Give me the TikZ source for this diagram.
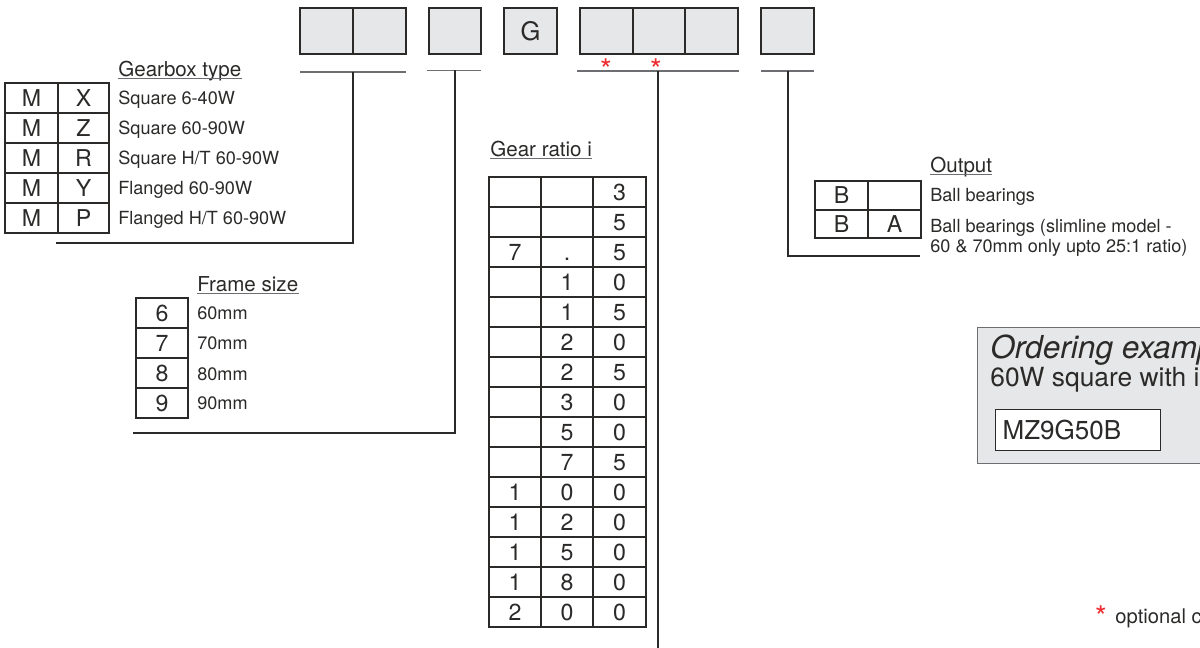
\documentclass[tikz,border=0pt]{standalone}
\usepackage{fontspec}
\setmainfont{TeX Gyre Heros}
\usepackage{tikz}
\usetikzlibrary{positioning}
\usepackage{xcolor}
\definecolor{boxgray}{HTML}{E6E7E8}
\definecolor{inkgray}{HTML}{2B2A29}
\definecolor{rulegray}{HTML}{6D6E71}
\definecolor{starred}{HTML}{EE2B2F}

\begin{document}
\begin{tikzpicture}[
    x=0.02cm, y=-0.02cm,
    codebox/.style={draw=inkgray, line width=0.8pt, fill=boxgray, minimum width=1.06cm, minimum height=0.92cm, inner sep=0pt, text height=10.4pt, text depth=0pt, font=\fontsize{14.5}{16}\selectfont},
    cell/.style={draw=inkgray, line width=0.6pt, minimum width=1.04cm, minimum height=0.6cm, inner sep=0pt, text height=9.5pt, text depth=0pt, font=\fontsize{13.2}{15}\selectfont},
    item/.style={anchor=base west, inner sep=0pt, font=\fontsize{10.3}{12}\selectfont},
    heading/.style={anchor=base west, inner sep=0pt, font=\fontsize{11.7}{13}\selectfont},
    uline/.style={draw=rulegray, line width=0.6pt},
    lead/.style={draw=inkgray, line width=1.5pt},
    star/.style={anchor=base, inner sep=0pt, text=starred, font=\fontsize{17}{18}\selectfont},
    text=inkgray
]
  \useasboundingbox (0,0) rectangle (1200,648);
  \clip (0,0) rectangle (1200,648);

  % --- TOP CODE BOXES ---
  \node[codebox] (type1) at (326.5,31) {};
  \node[codebox] (type2) at (379.5,31) {};
  \node[codebox, minimum width=1.04cm] (frame) at (455,31) {};
  \node[codebox] (gee) at (530.5,31) {G};
  \node[codebox] (ratio1) at (606.5,31) {};
  \node[codebox, minimum width=1.04cm] (ratio2) at (659,31) {};
  \node[codebox] (ratio3) at (711.5,31) {};
  \node[codebox] (output) at (787.5,31) {};

  % underlines below the boxes
  \coordinate (typeL) at (300,72);   \coordinate (typeR) at (406,72);
  \coordinate (frameL) at (427,70.5); \coordinate (frameR) at (481,70.5);
  \coordinate (ratioL) at (577,71);  \coordinate (ratioR) at (739,71);
  \coordinate (outL) at (761,71);    \coordinate (outR) at (814,71);
  \draw[uline] (typeL) -- (typeR);
  \draw[uline] (frameL) -- (frameR);
  \draw[uline] (ratioL) -- (ratioR);
  \draw[uline] (outL) -- (outR);
  \node[star] (opt1) at (606,81) {*};
  \node[star] (opt2) at (656,81) {*};

  % --- GEARBOX TYPE ---
  \node[heading] (typehead) at (118,77) {Gearbox type};
  \node[cell, minimum width=1.06cm] (tm1) at (31.5,98) {M};  \node[cell, minimum width=1.02cm] (tc1) at (83.5,98) {X};
  \node[cell, minimum width=1.06cm] (tm2) at (31.5,128) {M}; \node[cell, minimum width=1.02cm] (tc2) at (83.5,128) {Z};
  \node[cell, minimum width=1.06cm] (tm3) at (31.5,158) {M}; \node[cell, minimum width=1.02cm] (tc3) at (83.5,158) {R};
  \node[cell, minimum width=1.06cm] (tm4) at (31.5,188) {M}; \node[cell, minimum width=1.02cm] (tc4) at (83.5,188) {Y};
  \node[cell, minimum width=1.06cm] (tm5) at (31.5,218) {M}; \node[cell, minimum width=1.02cm] (tc5) at (83.5,218) {P};
  \node[item] (td1) at (118,105) {Square 6-40W};
  \node[item] (td2) at (118,135) {Square 60-90W};
  \node[item] (td3) at (118,165) {Square H/T 60-90W};
  \node[item] (td4) at (118,195) {Flanged 60-90W};
  \node[item] (td5) at (118,225) {Flanged H/T 60-90W};

  % --- FRAME SIZE ---
  \node[heading] (framehead) at (197,292) {Frame size};
  \node[cell] (fs1) at (162,313) {6};
  \node[cell] (fs2) at (162,343) {7};
  \node[cell] (fs3) at (162,373) {8};
  \node[cell] (fs4) at (162,403) {9};
  \node[item] (fd1) at (197,320) {60mm};
  \node[item] (fd2) at (197,350) {70mm};
  \node[item] (fd3) at (197,380) {80mm};
  \node[item] (fd4) at (197,410) {90mm};

  % --- GEAR RATIO ---
  \node[heading] (ratiohead) at (490,157) {Gear ratio i};
  \node[cell] (g1a) at (515,192) {};  \node[cell] (g1b) at (567,192) {};  \node[cell, minimum width=1.06cm] (g1c) at (619.5,192) {3};
  \node[cell] (g2a) at (515,222) {};  \node[cell] (g2b) at (567,222) {};  \node[cell, minimum width=1.06cm] (g2c) at (619.5,222) {5};
  \node[cell] (g3a) at (515,252) {7}; \node[cell] (g3b) at (567,252) {.}; \node[cell, minimum width=1.06cm] (g3c) at (619.5,252) {5};
  \node[cell] (g4a) at (515,282) {};  \node[cell] (g4b) at (567,282) {1}; \node[cell, minimum width=1.06cm] (g4c) at (619.5,282) {0};
  \node[cell] (g5a) at (515,312) {};  \node[cell] (g5b) at (567,312) {1}; \node[cell, minimum width=1.06cm] (g5c) at (619.5,312) {5};
  \node[cell] (g6a) at (515,342) {};  \node[cell] (g6b) at (567,342) {2}; \node[cell, minimum width=1.06cm] (g6c) at (619.5,342) {0};
  \node[cell] (g7a) at (515,372) {};  \node[cell] (g7b) at (567,372) {2}; \node[cell, minimum width=1.06cm] (g7c) at (619.5,372) {5};
  \node[cell] (g8a) at (515,402) {};  \node[cell] (g8b) at (567,402) {3}; \node[cell, minimum width=1.06cm] (g8c) at (619.5,402) {0};
  \node[cell] (g9a) at (515,432) {};  \node[cell] (g9b) at (567,432) {5}; \node[cell, minimum width=1.06cm] (g9c) at (619.5,432) {0};
  \node[cell] (g10a) at (515,462) {}; \node[cell] (g10b) at (567,462) {7}; \node[cell, minimum width=1.06cm] (g10c) at (619.5,462) {5};
  \node[cell] (g11a) at (515,492) {1}; \node[cell] (g11b) at (567,492) {0}; \node[cell, minimum width=1.06cm] (g11c) at (619.5,492) {0};
  \node[cell] (g12a) at (515,522) {1}; \node[cell] (g12b) at (567,522) {2}; \node[cell, minimum width=1.06cm] (g12c) at (619.5,522) {0};
  \node[cell] (g13a) at (515,552) {1}; \node[cell] (g13b) at (567,552) {5}; \node[cell, minimum width=1.06cm] (g13c) at (619.5,552) {0};
  \node[cell] (g14a) at (515,582) {1}; \node[cell] (g14b) at (567,582) {8}; \node[cell, minimum width=1.06cm] (g14c) at (619.5,582) {0};
  \node[cell] (g15a) at (515,612) {2}; \node[cell] (g15b) at (567,612) {0}; \node[cell, minimum width=1.06cm] (g15c) at (619.5,612) {0};

  % --- OUTPUT ---
  \node[heading] (outhead) at (930,173) {Output};
  \node[cell, minimum width=1.06cm, minimum height=0.58cm] (ob1) at (841.5,195.5) {B};
  \node[cell, minimum width=1.06cm, minimum height=0.58cm] (ox1) at (894.5,195.5) {};
  \node[cell, minimum width=1.06cm, minimum height=0.56cm] (ob2) at (841.5,224) {B};
  \node[cell, minimum width=1.06cm, minimum height=0.56cm] (ox2) at (894.5,224) {A};
  \node[item] (od1) at (930,202) {Ball bearings};
  \node[item, anchor=north west, align=left, font=\fontsize{10.3}{11.3}\selectfont] (od2) at (930,219) {Ball bearings (slimline model -\\60 \& 70mm only upto 25:1 ratio)};

  % heading underlines
  \foreach \h in {typehead, framehead, ratiohead, outhead}
    \draw[uline] ([yshift=-0.03cm]\h.base west) -- ([yshift=-0.03cm]\h.base east);

  % --- LEADER LINES ---
  \coordinate (typeStem) at (353,72);   \coordinate (typeEnd) at (56,243);
  \coordinate (frameStem) at (455,70.5); \coordinate (frameEnd) at (133,433);
  \coordinate (ratioStem) at (658,71);  \coordinate (ratioEnd) at (658,648);
  \coordinate (outStem) at (788,71);    \coordinate (outEnd) at (920,256);
  \draw[lead] (typeStem) |- (typeEnd);
  \draw[lead] (frameStem) |- (frameEnd);
  \draw[lead] (ratioStem) -- (ratioEnd);
  \draw[lead] (outStem) |- (outEnd);

  % --- ORDERING EXAMPLE ---
  \node[draw=rulegray, line width=0.7pt, fill=boxgray, anchor=north west, minimum width=4.9cm, minimum height=2.72cm, inner sep=0pt] (example) at (977,327) {};
  \node[heading, font=\fontsize{18}{20}\selectfont\itshape] (exhead) at (990,358) {Ordering example};
  \node[heading, font=\fontsize{15}{17}\selectfont] (extext) at (990,387) {60W square with i};
  \node[draw=inkgray, line width=0.7pt, fill=white, anchor=north west, minimum height=0.82cm, text width=3.02cm, inner xsep=0.14cm, inner ysep=0pt, align=left, font=\fontsize{14.8}{16}\selectfont] (excode) at (995,409) {MZ9G50B};

  % footnote
  \node[star] (optstar) at (1101,627) {*};
  \node[item, font=\fontsize{11.5}{13}\selectfont] (optnote) at (1115,623) {optional c};
\end{tikzpicture}
\end{document}
